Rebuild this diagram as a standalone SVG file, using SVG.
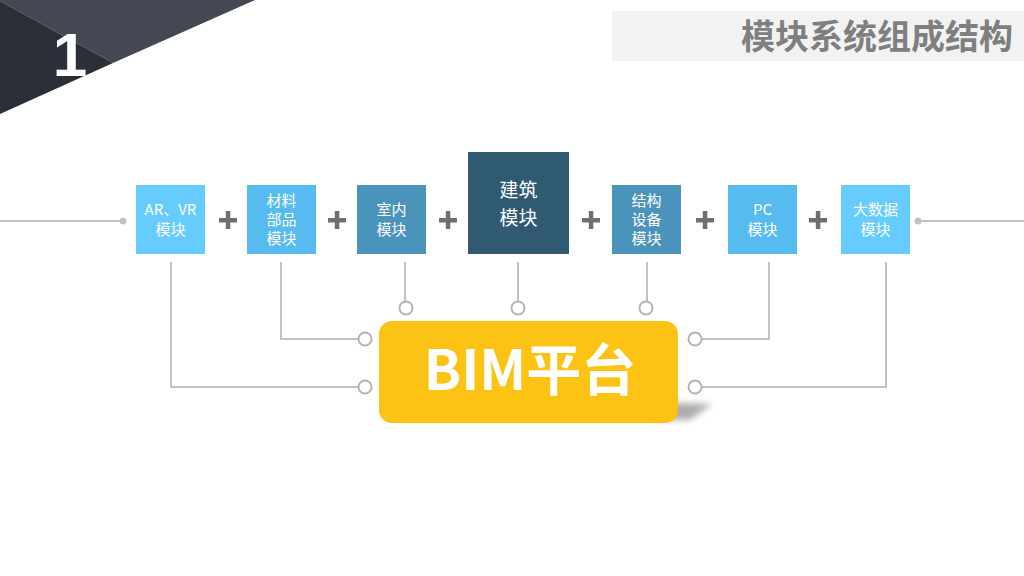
<svg xmlns="http://www.w3.org/2000/svg" width="1024" height="576" viewBox="0 0 1024 576">
<defs>
<style>
.t{font-family:"Noto Sans CJK SC","Liberation Sans",sans-serif;fill:#fff;text-anchor:middle}
.s{font-size:15px}
.b{font-size:19px}
.ln{fill:none;stroke:#c2c2c2;stroke-width:2}
.c{fill:#fff;stroke:#b4b4b4;stroke-width:2}
.p{fill:#6f6f6f}
</style>
<filter id="blur" x="-50%" y="-50%" width="200%" height="200%"><feGaussianBlur stdDeviation="3"/></filter>
</defs>
<rect width="1024" height="576" fill="#fff"/>
<g id="corner">
<polygon points="0,0 255,0 113,63 0,1" fill="#434852"/>
<polygon points="0,1 113,63 0,114" fill="#2b2f37"/>
<text x="70" y="76" font-family="Liberation Sans,sans-serif" font-weight="bold" font-size="62" fill="#fff" text-anchor="middle">1</text>
</g>
<g id="title">
<rect x="612" y="11" width="412" height="50" fill="#f2f2f2"/>
<text x="1013" y="49" font-family="Noto Sans CJK SC,sans-serif" font-weight="bold" font-size="34" fill="#7f7f7f" text-anchor="end">模块系统组成结构</text>
</g>
<g id="connectors">
<line class="ln" x1="0" y1="221" x2="123" y2="221"/>
<circle cx="123" cy="221" r="3.5" fill="#c2c2c2"/>
<line class="ln" x1="918" y1="221" x2="1024" y2="221"/>
<circle cx="918" cy="221" r="3.5" fill="#c2c2c2"/>
<polyline class="ln" points="171,262 171,387 358,387"/>
<polyline class="ln" points="281,262 281,339 358,339"/>
<line class="ln" x1="405" y1="262" x2="405" y2="301"/>
<line class="ln" x1="518" y1="262" x2="518" y2="301"/>
<line class="ln" x1="647" y1="262" x2="647" y2="301"/>
<polyline class="ln" points="769,262 769,339 702,339"/>
<polyline class="ln" points="886,262 886,387 702,387"/>
<circle class="c" cx="365" cy="387" r="6.5"/>
<circle class="c" cx="365" cy="339" r="6.5"/>
<circle class="c" cx="406" cy="308" r="6.5"/>
<circle class="c" cx="518" cy="308" r="6.5"/>
<circle class="c" cx="646" cy="308" r="6.5"/>
<circle class="c" cx="695" cy="339" r="6.5"/>
<circle class="c" cx="695" cy="387" r="6.5"/>
</g>
<g id="plus">
<g class="p"><rect x="219" y="218" width="18" height="4.5"/><rect x="225.8" y="211" width="4.5" height="18"/></g>
<g class="p"><rect x="328" y="218" width="18" height="4.5"/><rect x="334.8" y="211" width="4.5" height="18"/></g>
<g class="p"><rect x="439" y="218" width="18" height="4.5"/><rect x="445.8" y="211" width="4.5" height="18"/></g>
<g class="p"><rect x="582" y="218" width="18" height="4.5"/><rect x="588.8" y="211" width="4.5" height="18"/></g>
<g class="p"><rect x="696" y="218" width="18" height="4.5"/><rect x="702.8" y="211" width="4.5" height="18"/></g>
<g class="p"><rect x="809" y="218" width="18" height="4.5"/><rect x="815.8" y="211" width="4.5" height="18"/></g>
</g>
<g id="ar">
<rect x="136" y="185" width="69" height="69" fill="#66ccfe"/>
<text class="t s" x="170.5" y="215">AR、VR</text>
<text class="t s" x="170.5" y="235">模块</text>
</g>
<g id="cailiao">
<rect x="247" y="185" width="69" height="69" fill="#56bcef"/>
<text class="t s" x="281.5" y="205.5">材料</text>
<text class="t s" x="281.5" y="224.5">部品</text>
<text class="t s" x="281.5" y="243.5">模块</text>
</g>
<g id="shinei">
<rect x="357" y="185" width="69" height="69" fill="#4a94bc"/>
<text class="t s" x="391.5" y="215">室内</text>
<text class="t s" x="391.5" y="235">模块</text>
</g>
<g id="jianzhu">
<rect x="468" y="152" width="101" height="102" fill="#2f5a72"/>
<text class="t b" x="518.5" y="197">建筑</text>
<text class="t b" x="518.5" y="225">模块</text>
</g>
<g id="jiegou">
<rect x="612" y="185" width="69" height="69" fill="#4a94bc"/>
<text class="t s" x="646.5" y="205.5">结构</text>
<text class="t s" x="646.5" y="224.5">设备</text>
<text class="t s" x="646.5" y="243.5">模块</text>
</g>
<g id="pc">
<rect x="728" y="185" width="69" height="69" fill="#56bcef"/>
<text class="t s" x="762.5" y="215">PC</text>
<text class="t s" x="762.5" y="235">模块</text>
</g>
<g id="dashuju">
<rect x="841" y="185" width="69" height="69" fill="#66ccfe"/>
<text class="t s" x="875.5" y="215">大数据</text>
<text class="t s" x="875.5" y="235">模块</text>
</g>
<g id="bim">
<polygon points="650,402 712,404 690,420 650,420" fill="#9a9a9a" filter="url(#blur)" opacity="0.8"/>
<rect x="379" y="321" width="299" height="102" rx="13" fill="#fdc314"/>
<text x="530" y="390" font-family="Noto Sans CJK SC,sans-serif" font-weight="bold" font-size="55" fill="#fff" text-anchor="middle">BIM平台</text>
</g>
</svg>
